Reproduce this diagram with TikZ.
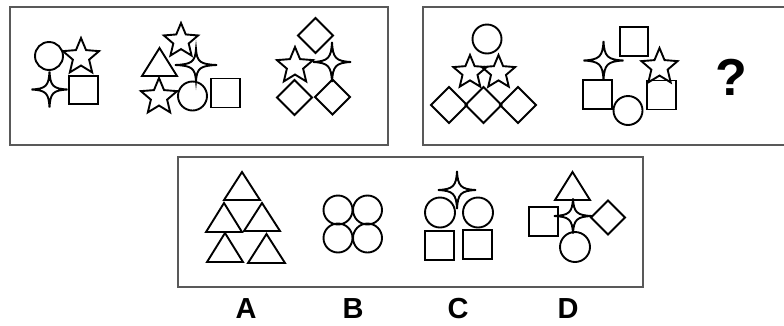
\documentclass[tikz,border=0pt]{standalone}
\usepackage{fontspec}
\setmainfont{Liberation Sans}
\begin{document}
\begin{tikzpicture}[x=1pt,y=-1pt,
  shp/.style={draw=black,line width=1.9pt,line join=miter},
  panel/.style={draw=black!65,line width=1.4pt},
  lbl/.style={font=\bfseries\fontsize{29}{29}\selectfont,anchor=base,inner sep=0pt},
  pics/circ/.style={code={\draw[shp] (0,0) circle (#1);}},
  pics/sq/.style={code={\draw[shp] (-#1/2,-#1/2) rectangle (#1/2,#1/2);}},
  pics/dia/.style={code={\draw[shp] (0,-#1) -- (#1,0) -- (0,#1) -- (-#1,0) -- cycle;}},
  pics/tri/.style args={#1/#2}{code={\draw[shp] (0,0) -- (#1/2,#2) -- (-#1/2,#2) -- cycle;}},
  pics/starfive/.style={code={\draw[shp] (270:#1) \foreach \i in {1,...,9} {-- ({270+36*\i}:{ifthenelse(mod(\i,2)==0,#1,0.45*#1)})} -- cycle;}},
  pics/starfour/.style args={#1/#2}{code={\draw[shp]
     (0,-#2) .. controls ({0.04*#1},{-0.2*#2}) and ({0.2*#1},{-0.04*#2}) .. (#1,0)
     .. controls ({0.2*#1},{0.04*#2}) and ({0.04*#1},{0.2*#2}) .. (0,#2)
     .. controls ({-0.04*#1},{0.2*#2}) and ({-0.2*#1},{0.04*#2}) .. (-#1,0)
     .. controls ({-0.2*#1},{-0.04*#2}) and ({-0.04*#1},{-0.2*#2}) .. cycle;}}
]
\useasboundingbox (0,0) rectangle (784,325);
\fill[white] (0,0) rectangle (784,325);

% panels
\draw[panel] (10,7) rectangle (388,145);
\draw[panel] (423,7) rectangle (790,145);
\draw[panel] (178,157) rectangle (643,287);

% ---- panel 1, figure 1
\pic at (49,56) {circ=14};
\pic at (81,57) {starfive=19};
\pic at (49.5,89.5) {starfour=18/18};
\pic at (83.5,90) {sq=28.5};

% ---- panel 1, figure 2
\pic at (181,41) {starfive=18};
\pic at (159.5,48) {tri=35/28};
\pic at (196,65) {starfour=21/16};
\pic at (159,97) {starfive=19};
\pic at (192.5,96) {circ=14.5};
\pic at (225.5,93) {sq=29};

% ---- panel 1, figure 3
\pic at (315.5,35.5) {dia=17.5};
\pic at (295,66) {starfive=19};
\pic at (332,62) {starfour=19/20};
\pic at (294.5,97.5) {dia=17.5};
\pic at (332.5,97) {dia=17.5};

% ---- panel 2, figure 1
\pic at (487,39) {circ=14.5};
\pic at (470,72.5) {starfive=17.5};
\pic at (498.5,72.5) {starfive=17.5};
\pic at (449,105) {dia=18};
\pic at (483.5,105) {dia=18};
\pic at (518,105) {dia=18};

% ---- panel 2, figure 2
\pic at (634,41.5) {sq=28.5};
\pic at (603.5,60.5) {starfour=20/19.5};
\pic at (659.5,67) {starfive=19};
\pic at (597.5,94.5) {sq=29};
\pic at (628,110.5) {circ=14.5};
\pic at (661.5,95) {sq=29};
\node[anchor=base,inner sep=0pt,font=\bfseries\fontsize{52}{52}\selectfont] (qmark) at (731,95) {?};

% ---- option A
\pic at (242,172) {tri=36/28};
\pic at (224,203) {tri=36/29};
\pic at (262,203) {tri=36/28};
\pic at (225,233) {tri=36/29};
\pic at (266.5,234) {tri=37/29};

% ---- option B
\pic at (338,210) {circ=14.5};
\pic at (367.5,210) {circ=14.5};
\pic at (338,238) {circ=14.5};
\pic at (367.5,238) {circ=14.5};

% ---- option C
\pic at (457,190) {starfour=19/19};
\pic at (440,212.5) {circ=15};
\pic at (478,212.5) {circ=15};
\pic at (439.5,245.5) {sq=29};
\pic at (477.5,244.5) {sq=29};

% ---- option D
\pic at (573,216) {starfour=19/17.5};
\pic at (572.5,172) {tri=35/28};
\pic at (543.5,221.5) {sq=29};
\pic at (608,217.5) {dia=17};
\pic at (575,247) {circ=15};

% labels
\node[lbl] (labA) at (246,318) {A};
\node[lbl] (labB) at (353,318) {B};
\node[lbl] (labC) at (458,318) {C};
\node[lbl] (labD) at (568,318) {D};
\end{tikzpicture}
\end{document}
